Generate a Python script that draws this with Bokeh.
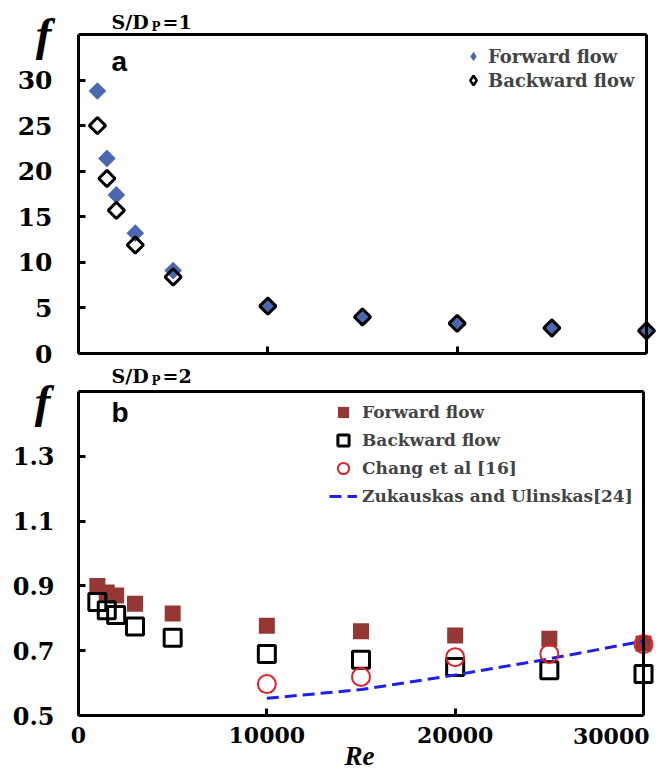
import numpy as np
from bokeh.plotting import figure
from bokeh.models import (Range1d, FixedTicker, LinearAxis, Label, Legend,
                          LegendItem, ColumnDataSource)
from bokeh.embed import file_html
from bokeh.resources import INLINE

# ---------------- data ----------------
re_vals = [1000, 1500, 2000, 3000, 5000, 10000, 15000, 20000, 25000, 30000]
f_fwd_a = [28.8, 21.4, 17.4, 13.2, 9.1, 5.3, 4.0, 3.3, 2.9, 2.5]
f_bwd_a = [25.0, 19.2, 15.7, 11.9, 8.4, 5.2, 4.0, 3.3, 2.8, 2.5]
f_fwd_b = [0.90, 0.88, 0.87, 0.845, 0.815, 0.777, 0.76, 0.747, 0.737, 0.722]
f_bwd_b = [0.85, 0.825, 0.81, 0.775, 0.74, 0.69, 0.672, 0.65, 0.64, 0.628]
re_chang = [10000, 15000, 20000, 25000, 30000]
f_chang = [0.597, 0.619, 0.68, 0.69, 0.72]
re_zuk = [10000, 15000, 20000, 25000, 30000]
f_zuk = [0.553, 0.58, 0.625, 0.675, 0.73]

x_ticks = [0, 10000, 20000, 30000]
x_tick_labels = ["0", "10000", "20000", "30000"]
y_ticks_a = [0, 5, 10, 15, 20, 25, 30]
y_ticks_b = [0.5, 0.7, 0.9, 1.1, 1.3]
y_tick_labels_b = ["0.5", "0.7", "0.9", "1.1", "1.3"]

X_MIN, X_MAX = 0, 30000
YA_MIN, YA_MAX = 0, 35
YB_MIN, YB_MAX = 0.5, 1.5

SERIF = "DejaVu Serif"
BLUE = "#4a67b0"
BROWN = "#953735"
RED = "#e0202a"
LBLUE = "#1f1fee"

W, H = 662, 769
# pixel boxes of the two panels: left, right, top, bottom
BOX_A = (78, 646, 34, 353)
BOX_B = (78, 643, 391, 715)


def rng(p0, p1, v0, v1, a, b):
    s = (v1 - v0) / (p1 - p0)
    return v0 + (a - p0) * s, v0 + (b - p0) * s


def x_range_for(box):
    return Range1d(*rng(box[0], box[1], X_MIN, X_MAX, 0, W))


def y_range_for(box, y0, y1):
    return Range1d(*rng(box[3], box[2], y0, y1, H, 0))


p = figure(width=W, height=H, x_range=x_range_for(BOX_A),
           y_range=y_range_for(BOX_A, YA_MIN, YA_MAX), output_backend="svg",
           toolbar_location=None, x_axis_type=None, y_axis_type=None,
           min_border=0)
p.extra_x_ranges = {"b": x_range_for(BOX_B)}
p.extra_y_ranges = {"b": y_range_for(BOX_B, YB_MIN, YB_MAX)}
p.outline_line_color = None
p.grid.visible = False
p.background_fill_color = "white"
p.border_fill_color = "white"


def axis(side, loc, bounds, ticks, rn="default", **kw):
    ax = LinearAxis(fixed_location=loc, bounds=bounds,
                    ticker=FixedTicker(ticks=ticks),
                    x_range_name=rn, y_range_name=rn,
                    axis_line_width=3, axis_line_color="black",
                    major_tick_line_width=3, major_tick_in=7, major_tick_out=0,
                    minor_tick_line_color=None,
                    major_label_text_font=SERIF,
                    major_label_text_font_style="bold",
                    major_label_text_color="black", **kw)
    p.add_layout(ax, side)
    return ax


def lab(x, page_y, text, font=SERIF, style="bold", size="18px", align="left"):
    # page_y: vertical centre of the text on the page
    p.add_layout(Label(x=x, y=H - page_y, x_units="screen", y_units="screen",
                       text=text, text_font=font, text_font_style=style,
                       text_font_size=size, text_align=align,
                       text_baseline="middle", text_color="black"))


# ---------------- panel a ----------------
axis("below", YA_MIN, (X_MIN, X_MAX), x_ticks,
     major_label_text_font_size="8px").major_label_text_color = None
axis("left", X_MIN, (YA_MIN, YA_MAX), y_ticks_a,
     major_label_text_font_size="25px", major_label_standoff=26)
axis("above", YA_MAX, (X_MIN, X_MAX), [])
axis("right", X_MAX, (YA_MIN, YA_MAX), [])

src_a = ColumnDataSource(dict(x=re_vals, fw=f_fwd_a, bw=f_bwd_a))
p.scatter("x", "fw", source=src_a, marker="square", angle=np.pi / 4,
          size=12.5, fill_color=BLUE, line_color=None)
p.scatter("x", "bw", source=src_a, marker="square", angle=np.pi / 4,
          size=11.5, fill_color=None, line_color="black", line_width=3)
# hidden twins of the two series, used only for the legend swatches
la1 = p.scatter("x", "fw", source=src_a, marker="diamond", fill_color=BLUE,
                line_color=None, visible=False)
la2 = p.scatter("x", "bw", source=src_a, marker="diamond", fill_color=None,
                line_color="black", line_width=2.5, visible=False)

p.add_layout(Legend(
    items=[LegendItem(label="Forward flow", renderers=[la1]),
           LegendItem(label="Backward flow", renderers=[la2])],
    location=(461, H - 92), glyph_width=24, glyph_height=24,
    label_height=24, spacing=0, padding=0, margin=0, label_standoff=3,
    border_line_color=None, background_fill_alpha=0, inactive_fill_alpha=0,
    label_text_font=SERIF, label_text_font_style="bold",
    label_text_font_size="18px"))

lab(43, 33, "f", font="Liberation Serif", style="bold italic", size="47px",
    align="center")
lab(111, 21, "S/D", size="19px")
lab(151, 26, "P", size="12px")
lab(162, 21, "=1", size="19px")
lab(111, 61, "a", font="Liberation Sans", style="bold", size="28px")

# ---------------- panel b ----------------
axis("below", YB_MIN, (X_MIN, X_MAX), x_ticks[:-1], rn="b",
     major_label_overrides={t: s for t, s in zip(x_ticks[:-1], x_tick_labels[:-1])},
     major_label_text_font_size="22px", major_label_standoff=11)
axis("left", X_MIN, (YB_MIN, YB_MAX), y_ticks_b, rn="b",
     major_label_overrides={t: s for t, s in zip(y_ticks_b, y_tick_labels_b)},
     major_label_text_font_size="24px", major_label_standoff=24)
axis("above", YB_MAX, (X_MIN, X_MAX), [], rn="b")
axis("right", X_MAX, (YB_MIN, YB_MAX), [], rn="b")

src_b = ColumnDataSource(dict(x=re_vals, fw=f_fwd_b, bw=f_bwd_b))
src_c = ColumnDataSource(dict(x=re_chang, y=f_chang))
src_z = ColumnDataSource(dict(x=re_zuk, y=f_zuk))
rb1 = p.scatter("x", "fw", source=src_b, marker="square", size=16,
                fill_color=BROWN, line_color=None,
                x_range_name="b", y_range_name="b")
rb2 = p.scatter("x", "bw", source=src_b, marker="square", size=17,
                fill_color=None, line_color="black", line_width=3,
                x_range_name="b", y_range_name="b")
rb4 = p.line("x", "y", source=src_z, line_color=LBLUE, line_width=3,
             line_dash="12 6", x_range_name="b", y_range_name="b")
rb3 = p.scatter("x", "y", source=src_c, marker="circle", size=18,
                fill_color=None, line_color=RED, line_width=2,
                x_range_name="b", y_range_name="b")

p.add_layout(Legend(
    items=[LegendItem(label="Forward flow", renderers=[rb1]),
           LegendItem(label="Backward flow", renderers=[rb2]),
           LegendItem(label="Chang et al [16]", renderers=[rb3]),
           LegendItem(label="Zukauskas and Ulinskas[24]", renderers=[rb4])],
    location=(329, H - 510), glyph_width=28, glyph_height=28,
    label_height=28, spacing=0, padding=0, margin=0, label_standoff=5,
    border_line_color=None, background_fill_alpha=0,
    label_text_font=SERIF, label_text_font_style="bold",
    label_text_font_size="17px"))

lab(42, 400, "f", font="Liberation Serif", style="bold italic", size="47px",
    align="center")
lab(111, 375, "S/D", size="19px")
lab(151, 380, "P", size="12px")
lab(162, 375, "=2", size="19px")
lab(111, 412, "b", font="Liberation Sans", style="bold", size="28px")
lab(649, 735, x_tick_labels[-1], size="22px", align="right")
lab(359, 755, "Re", font="Liberation Serif", style="bold italic", size="27px",
    align="center")

open("out.html", "w").write(file_html(p, INLINE))
